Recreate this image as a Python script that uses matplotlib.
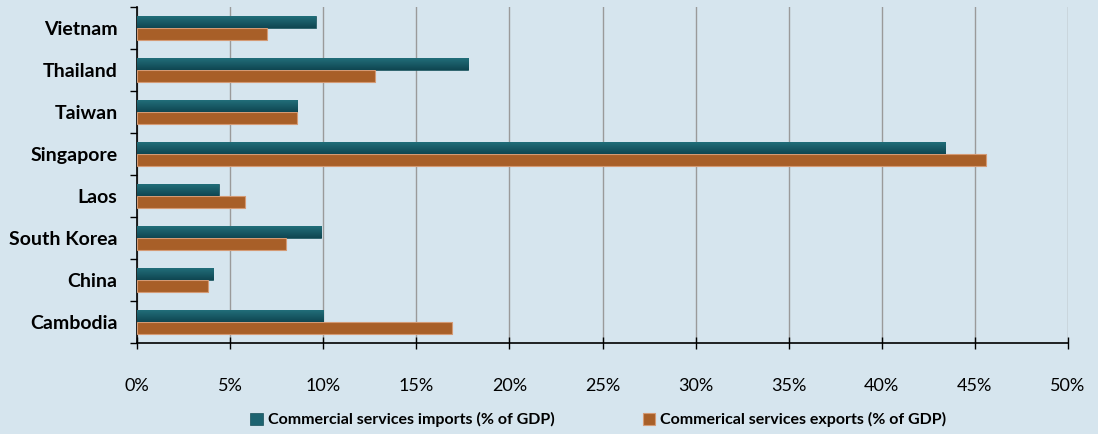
import numpy as np
import matplotlib.pyplot as plt
from matplotlib.ticker import FuncFormatter
from matplotlib.colors import LinearSegmentedColormap

# Data, bottom to top
countries = ['Cambodia', 'China', 'South Korea', 'Laos', 'Singapore', 'Taiwan', 'Thailand', 'Vietnam']
imports_pct = [10.0, 4.1, 9.9, 4.4, 43.4, 8.6, 17.8, 9.6]
exports_pct = [16.9, 3.8, 8.0, 5.8, 45.6, 8.6, 12.8, 7.0]
x_ticks = [0, 5, 10, 15, 20, 25, 30, 35, 40, 45, 50]

bg = '#d6e5ee'
c_imp = '#1d6370'
c_exp = '#a85f28'

plt.rcParams['font.family'] = ['Lato', 'DejaVu Sans']

fig = plt.figure(figsize=(10.98, 4.34), dpi=100, facecolor=bg)
ax = fig.add_axes([137 / 1098, 1 - 343 / 434, (1068 - 137) / 1098, (343 - 7) / 434])
ax.set_facecolor(bg)

y = np.arange(len(countries))
h = 0.29
imp_bars = ax.barh(y + h / 2, imports_pct, height=h, color=c_imp, edgecolor='#174f59', linewidth=0.5,
                   label='Commercial services imports (% of GDP)', zorder=3)
ax.barh(y - h / 2, exports_pct, height=h, color=c_exp, edgecolor='#d49a74', linewidth=0.8,
        label='Commerical services exports (% of GDP)', zorder=3)

# vertical gradient on the import bars (lighter on top, darker at the bottom)
grad_cmap = LinearSegmentedColormap.from_list('teal', ['#0f4651', '#23717d'])
grad = np.linspace(0, 1, 64).reshape(-1, 1)
for bar in imp_bars:
    x0, y0 = bar.get_x(), bar.get_y()
    im = ax.imshow(grad, extent=(x0, x0 + bar.get_width(), y0, y0 + bar.get_height()),
                   origin='lower', cmap=grad_cmap, aspect='auto', zorder=3.5)
    im.set_clip_path(bar)

ax.set_xlim(0, 50)
ax.set_ylim(-0.5, len(countries) - 0.5)
ax.set_xticks(x_ticks)
ax.xaxis.set_major_formatter(FuncFormatter(lambda v, p: f'{v:.0f}%'))
ax.set_yticks(y)
ax.set_yticklabels(countries, fontweight='bold', fontsize=14)
ax.set_yticks(np.arange(len(countries) + 1) - 0.5, minor=True)
ax.tick_params(axis='y', which='major', length=0, pad=14)
ax.tick_params(axis='y', which='minor', length=5, direction='out', width=1)
ax.tick_params(axis='x', length=8, direction='inout', width=1, labelsize=13, pad=21)

ax.grid(axis='x', color='#9a9a9a', linewidth=1, zorder=0)
for s in ['top', 'right']:
    ax.spines[s].set_visible(False)
ax.spines['left'].set_linewidth(1.2)
ax.spines['bottom'].set_linewidth(1.2)

leg = fig.legend(loc='lower center', bbox_to_anchor=(0.545, -0.018), ncol=2, frameon=False,
                 handlelength=0.8, handleheight=0.8, columnspacing=5.5, handletextpad=0.3,
                 prop={'weight': 'bold', 'size': 11.5})

fig.savefig('out.png', dpi=100, facecolor=bg)
